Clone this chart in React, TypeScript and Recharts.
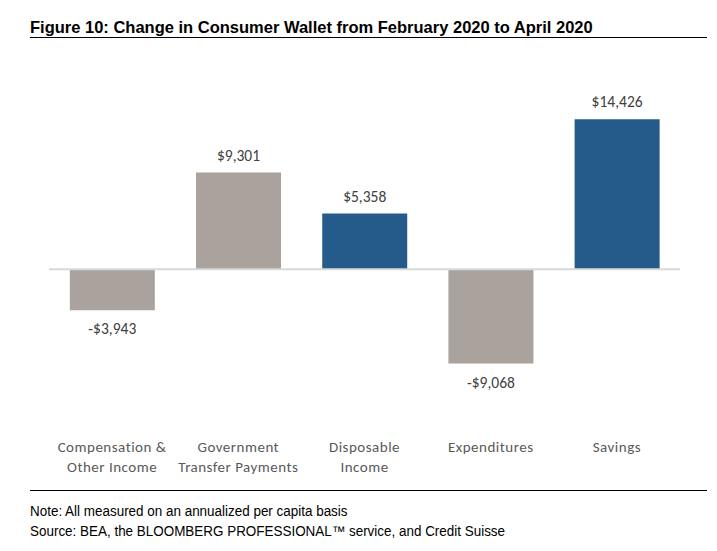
import { BarChart, Bar, XAxis, YAxis, Cell, LabelList, ReferenceLine } from 'recharts';

const categories = [
  'Compensation &\nOther Income',
  'Government\nTransfer Payments',
  'Disposable\nIncome',
  'Expenditures',
  'Savings',
];
const values = [-3943, 9301, 5358, -9068, 14426];
const isTotal = [false, false, true, false, true];

const GRAY = '#aaa29c';
const BLUE = '#255b8a';
const LABEL_FONT = 'Carlito, Lato, "Open Sans", sans-serif';
const NOTE_FONT = '"Liberation Sans", Arial, Helvetica, sans-serif';

const data = categories.map((name, i) => ({ name, value: values[i], total: isTotal[i] }));

function formatMoney(v: number) {
  const s = '$' + Math.abs(v).toLocaleString('en-US');
  return v < 0 ? '-' + s : s;
}

function CategoryTick(props: any) {
  const { x, y, payload } = props;
  const lines = String(payload.value).split('\n');
  return (
    <text
      x={x}
      y={y}
      textAnchor="middle"
      fill="#595959"
      fontSize={15}
      letterSpacing={0.5}
      fontFamily={LABEL_FONT}
    >
      {lines.map((line, i) => (
        <tspan key={i} x={x} dy={i === 0 ? 50 : 20}>
          {line}
        </tspan>
      ))}
    </text>
  );
}

function ValueLabel(props: any) {
  const { x, y, width, height, value } = props;
  const top = Math.min(y, y + height);
  const bottom = Math.max(y, y + height);
  const cx = x + width / 2;
  const ty = value < 0 ? bottom + 24 : top - 12;
  return (
    <text x={cx} y={ty} textAnchor="middle" fill="#404040" fontSize={15.5} fontFamily={LABEL_FONT}>
      {formatMoney(value)}
    </text>
  );
}

export default function App() {
  return (
    <div style={{ position: 'absolute', left: 0, top: 0, width: 717, height: 551, background: '#fff' }}>
      <div
        style={{
          position: 'absolute',
          left: 30,
          top: 18,
          fontFamily: NOTE_FONT,
          fontWeight: 'bold',
          fontSize: 16.5,
          lineHeight: '18px',
          color: '#000',
          whiteSpace: 'nowrap',
        }}
      >
        Figure 10: Change in Consumer Wallet from February 2020 to April 2020
      </div>
      <div style={{ position: 'absolute', left: 30, top: 37, width: 677, height: 1, background: '#000' }} />

      <div style={{ position: 'absolute', left: 0, top: 0 }}>
        <BarChart
          width={717}
          height={551}
          data={data}
          margin={{ top: 103, right: 37, bottom: 127, left: 49 }}
          barCategoryGap="16.5%"
        >
          <XAxis
            dataKey="name"
            axisLine={false}
            tickLine={false}
            interval={0}
            tick={<CategoryTick />}
            height={30}
          />
          <YAxis hide domain={[-12000, 16000]} />
          <ReferenceLine y={0} stroke="#d9d9d9" strokeWidth={2} />
          <Bar dataKey="value" isAnimationActive={false}>
            {data.map((d, i) => (
              <Cell key={`cell-${i}`} fill={d.total ? BLUE : GRAY} />
            ))}
            <LabelList dataKey="value" content={<ValueLabel />} />
          </Bar>
        </BarChart>
      </div>

      <div style={{ position: 'absolute', left: 30, top: 490, width: 677, height: 1, background: '#000' }} />
      <div
        style={{
          position: 'absolute',
          left: 30,
          top: 501,
          fontFamily: NOTE_FONT,
          fontSize: 14,
          lineHeight: '20px',
          color: '#000',
          whiteSpace: 'nowrap',
          transform: 'scaleX(0.96)',
          transformOrigin: 'left top',
        }}
      >
        <div>Note: All measured on an annualized per capita basis</div>
        <div>Source: BEA, the BLOOMBERG PROFESSIONAL™ service, and Credit Suisse</div>
      </div>
    </div>
  );
}
